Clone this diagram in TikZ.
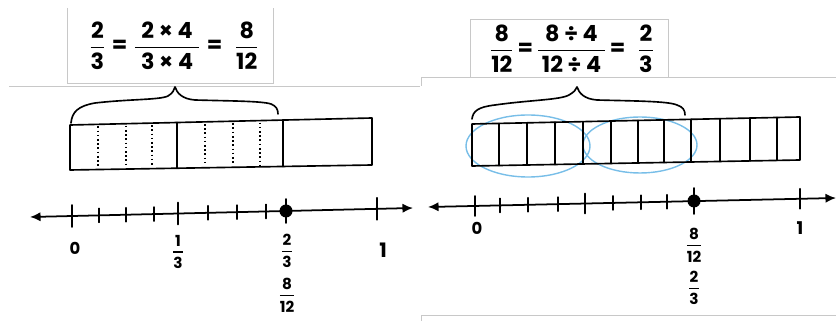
\documentclass[tikz,border=0pt]{standalone}
\usepackage{amsmath}
\usepackage{fontspec}
\setmainfont{Poppins}
\usetikzlibrary{arrows.meta}
\definecolor{framegray}{RGB}{200,200,200}
\definecolor{circblue}{RGB}{120,190,232}
\newcommand{\hfr}[2]{\ensuremath{\genfrac{}{}{1.3pt}{0}{\text{#1}}{\text{#2}}}}
\tikzset{
  ink/.style={line width=1.4pt, line cap=round, line join=round},
  frameline/.style={draw=framegray, line width=0.8pt},
  dotdiv/.style={line width=1.4pt, dash pattern=on 1.4pt off 2.2pt},
  numline/.style={line width=1.5pt, {Latex[length=9pt,width=8pt]}-{Latex[length=9pt,width=8pt]}},
  eqtext/.style={inner sep=0pt, font=\fontsize{19}{22}\selectfont\bfseries},
  lab/.style={inner sep=0pt, font=\fontsize{14}{16}\selectfont\bfseries},
  fraclab/.style={inner sep=0pt, font=\fontsize{13}{15}\selectfont\bfseries},
  loop/.style={draw=circblue, line width=1.2pt}
}
\begin{document}
\begin{tikzpicture}[x=0.03cm, y=-0.03cm]
\useasboundingbox (0,0) rectangle (836,321);
\clip (0,0) rectangle (836,321);

% ---------- frames (grey) ----------
\draw[frameline] (67,8) -- (67,83) -- (273,83) -- (273,8);
\draw[frameline] (9,86) -- (420,86);
\draw[frameline] (421,86) -- (421,77) -- (836,77);
\draw[frameline] (470,77) -- (470,19) -- (668,19) -- (668,77);
\draw[frameline] (421,321) -- (421,315) -- (836,315);

% ---------- equations ----------
\node[eqtext] (eqL) at (174,46) {\hfr{2}{3}\;\text{=}\;\hfr{\;2 × 4\;}{\;3 × 4\;}\;\text{=}\;\;\hfr{8}{12}};
\node[eqtext] (eqR) at (572,49) {\hfr{8}{12}\,\text{=}\,\hfr{\,8 ÷ 4\,}{\,12 ÷ 4\,}\,\text{=}\;\;\hfr{2}{3}};

% ---------- left panel ----------
% brace
\draw[ink] (71,123) .. controls (72,112) and (78,106) .. (95,103)
  .. controls (130,99) and (160,100) .. (168,96)
  .. controls (173,93) and (174,90) .. (175,87)
  .. controls (177,93) and (182,99) .. (195,100)
  .. controls (230,101) and (262,101) .. (271,104)
  .. controls (276,106) and (278,109) .. (278,114);
% bar
\draw[ink] (70,125) -- (372,118) -- (372,165) -- (70,170) -- cycle;
\foreach \x in {177,283}
  \draw[ink] (\x,{125-7*(\x-70)/302}) -- (\x,{170-5*(\x-70)/302});
\foreach \x in {98,126,152,205,233,260}
  \draw[dotdiv] (\x,{127-7*(\x-70)/302}) -- (\x,{168-5*(\x-70)/302});
% number line
\coordinate (lA) at (30,217);
\coordinate (lB) at (413,208);
\draw[numline] (lA) -- (lB);
\foreach \x in {99,126,154,208,237,266}
  \draw[ink] (\x,{217-9*(\x-30)/382-7}) -- (\x,{217-9*(\x-30)/382+7});
\foreach \x in {72,178,377}
  \draw[ink] (\x,{217-9*(\x-30)/382-11}) -- (\x,{217-9*(\x-30)/382+11});
\draw[ink] (286,199) -- (286,223);
\fill (286,211) circle (6.5);
\node[lab] (l0) at (75,248) {0};
\node[fraclab] (l13) at (178,252) {\hfr{1}{3}};
\node[fraclab] (l23) at (287,251) {\hfr{2}{3}};
\node[lab, font=\fontsize{17}{19}\selectfont\bfseries] (l1) at (383,250) {1};
\node[fraclab] (l812) at (287,295) {\hfr{8}{12}};

% ---------- right panel ----------
% blue loops
\draw[loop] (528,146) ellipse (62 and 31);
\draw[loop] (640,145) ellipse (57 and 28);
% brace
\draw[ink] (472,119) .. controls (473,111) and (478,107) .. (495,105)
  .. controls (530,100) and (560,100) .. (569,95)
  .. controls (574,92) and (576,90) .. (577,87)
  .. controls (579,93) and (584,99) .. (597,100)
  .. controls (632,101) and (668,101) .. (677,105)
  .. controls (683,107) and (685,110) .. (685,115);
% bar of twelfths
\draw[ink] (472,124) -- (800,117) -- (800,160) -- (472,166) -- cycle;
\foreach \x in {499,527,555,583,611,638,664,691,720,750,777}
  \draw[ink] (\x,{124-7*(\x-472)/328}) -- (\x,{166-6*(\x-472)/328});
% number line
\coordinate (rA) at (428,207);
\coordinate (rB) at (836,198);
\draw[numline] (rA) -- (rB);
\foreach \x in {500,528,558,613,641,667}
  \draw[ink] (\x,{207-9*(\x-428)/408-7}) -- (\x,{207-9*(\x-428)/408+7});
\foreach \x in {475,585,800}
  \draw[ink] (\x,{207-9*(\x-428)/408-10}) -- (\x,{207-9*(\x-428)/408+10});
\draw[ink] (694,188) -- (694,214);
\fill (694,201) circle (6.5);
\node[lab] (r0) at (477,228) {0};
\node[lab, font=\fontsize{15}{17}\selectfont\bfseries] (r1) at (800,228) {1};
\node[fraclab] (r812) at (694,245) {\hfr{8}{12}};
\node[fraclab] (r23) at (694,288) {\hfr{2}{3}};
\end{tikzpicture}
\end{document}
